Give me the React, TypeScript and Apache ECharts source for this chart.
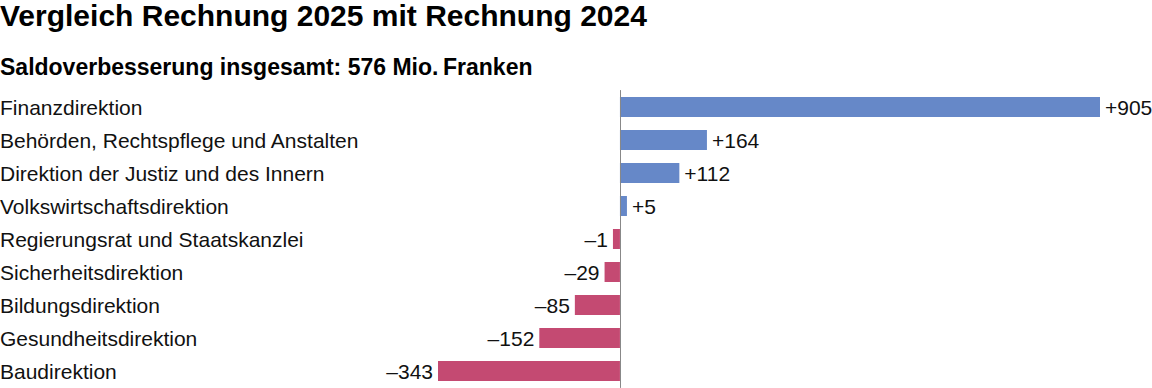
import React, { useEffect, useRef } from "react";
import * as echarts from "echarts";

const titleText = "Vergleich Rechnung 2025 mit Rechnung 2024";
const subtitleText = "Saldoverbesserung insgesamt: 576 Mio.\u2009Franken";

const categories = [
  "Finanzdirektion",
  "Behörden, Rechtspflege und Anstalten",
  "Direktion der Justiz und des Innern",
  "Volkswirtschaftsdirektion",
  "Regierungsrat und Staatskanzlei",
  "Sicherheitsdirektion",
  "Bildungsdirektion",
  "Gesundheitsdirektion",
  "Baudirektion",
];

const values = [905, 164, 112, 5, -1, -29, -85, -152, -343];

const POS_COLOR = "#6688c8";
const NEG_COLOR = "#c44a72";
const FONT = "'Liberation Sans', Arial, Helvetica, sans-serif";

export default function App() {
  const ref = useRef<HTMLDivElement>(null);

  useEffect(() => {
    if (!ref.current) return;
    const chart = echarts.init(ref.current, undefined, { renderer: "svg" });
    const data = values.map((v) => ({
      value: v,
      itemStyle: { color: v >= 0 ? POS_COLOR : NEG_COLOR },
      label: { position: v >= 0 ? "right" : "left" },
    }));
    chart.setOption({
      animation: false,
      title: [
        {
          text: titleText,
          left: 0,
          top: 0,
          padding: 0,
          textStyle: { fontFamily: FONT, fontSize: 30, fontWeight: "bold", color: "#000" },
        },
        {
          text: subtitleText,
          left: 0,
          top: 55,
          padding: 0,
          textStyle: { fontFamily: FONT, fontSize: 23, fontWeight: "bold", color: "#000" },
        },
      ],
      grid: {
        left: 438,
        right: 52,
        top: 90.5,
        bottom: 0.5,
        containLabel: false,
        outerBoundsMode: "none",
      },
      xAxis: {
        type: "value",
        min: -343,
        max: 905,
        show: false,
      },
      yAxis: {
        type: "category",
        data: categories,
        inverse: true,
        axisTick: { show: false },
        axisLine: { show: true, onZero: true, lineStyle: { color: "#888", width: 1 } },
        axisLabel: {
          align: "left",
          margin: 438,
          fontFamily: FONT,
          fontSize: 21,
          color: "#111",
          padding: [4, 0, 0, 0],
        },
        splitLine: { show: false },
        z: 10,
      },
      series: [
        {
          type: "bar",
          data,
          barWidth: 20,
          barMinHeight: 7,
          label: {
            show: true,
            fontFamily: FONT,
            fontSize: 21,
            color: "#111",
            distance: 5,
            padding: [4, 0, 0, 0],
            formatter: (p: any) =>
              p.value > 0 ? "+" + p.value : p.value < 0 ? "\u2013" + Math.abs(p.value) : String(p.value),
          },
        },
      ],
    });
    return () => chart.dispose();
  }, []);

  return (
    <div
      ref={ref}
      style={{ position: "absolute", left: 0, top: 0, width: 1152, height: 388, background: "#fff" }}
    />
  );
}
